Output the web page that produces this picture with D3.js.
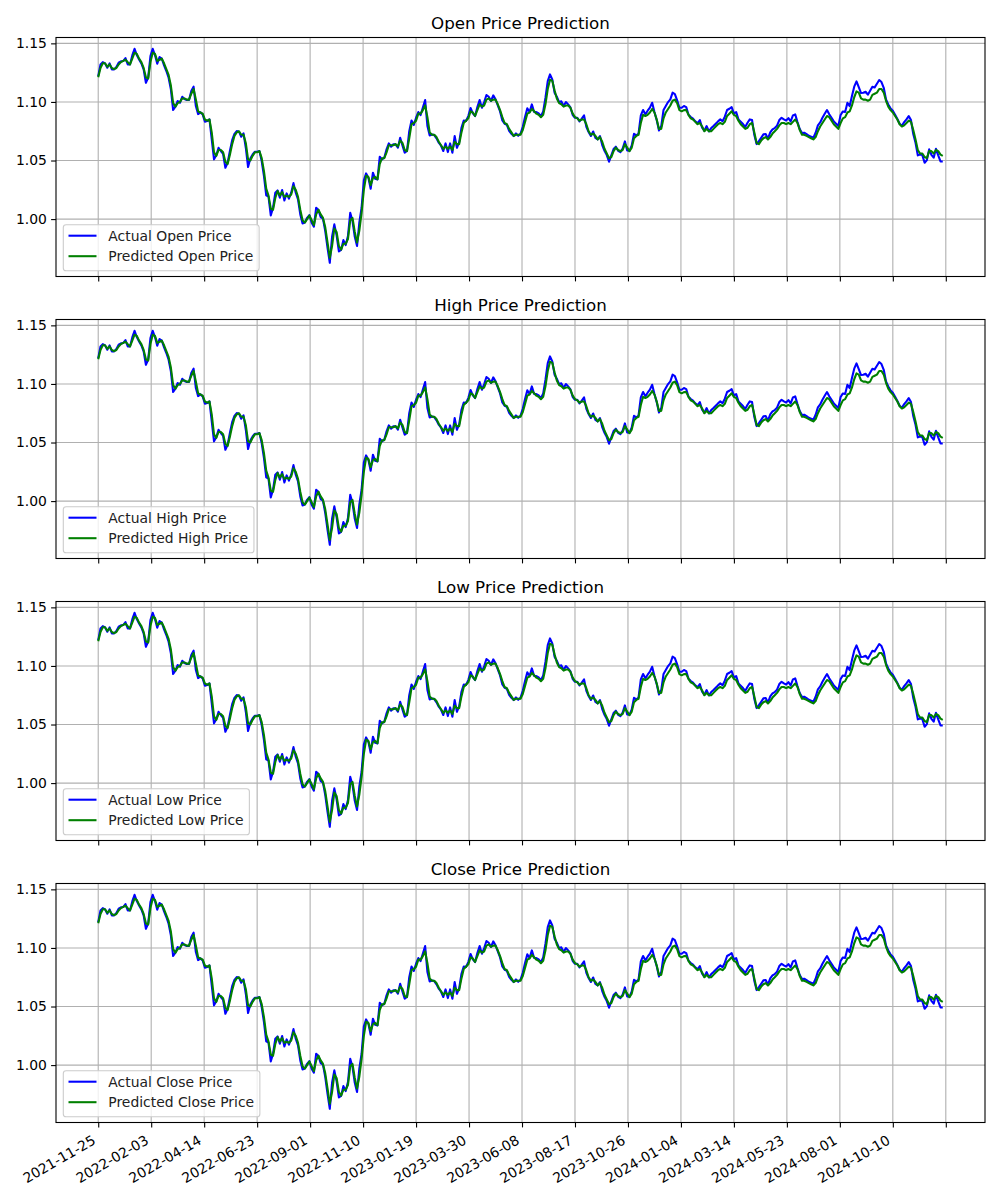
<!DOCTYPE html>
<html><head><meta charset="utf-8">
<script src="https://cdn.jsdelivr.net/npm/d3@7"></script>
<style>body{margin:0;background:#fff;} svg{display:block;font-family:"DejaVu Sans",sans-serif;}</style>
</head><body><svg id="chart" width="1000" height="1200"></svg>
<script>
// ---- data (one sample every 3 days from the start date) ----
const startDate = "2021-11-25";
const stepDays = 3;
const actualPrice = [
1.1220,1.1320,1.1340,1.1329,1.1292,1.1329,1.1278,1.1278,1.1298,1.1335,
1.1346,1.1349,1.1374,1.1320,1.1320,1.1397,1.1454,1.1400,1.1363,1.1329,
1.1278,1.1164,1.1207,1.1392,1.1454,1.1400,1.1326,1.1383,1.1369,1.1312,
1.1264,1.1207,1.1107,1.0931,1.0959,1.1008,1.0993,1.1044,1.1025,1.1016,
1.1016,1.1093,1.1130,1.0965,1.0896,1.0911,1.0894,1.0831,1.0837,1.0851,
1.0680,1.0510,1.0544,1.0609,1.0581,1.0558,1.0438,1.0481,1.0581,1.0674,
1.0728,1.0751,1.0746,1.0703,1.0731,1.0609,1.0444,1.0518,1.0552,1.0575,
1.0575,1.0581,1.0495,1.0367,1.0202,1.0191,1.0031,1.0097,1.0225,1.0245,
1.0182,1.0248,1.0159,1.0219,1.0174,1.0225,1.0307,1.0225,1.0168,1.0040,
0.9963,0.9970,1.0011,1.0034,0.9969,0.9935,1.0097,1.0077,1.0017,1.0003,
0.9898,0.9755,0.9627,0.9849,0.9955,0.9861,0.9724,0.9738,0.9821,0.9778,
0.9855,1.0054,0.9983,0.9849,0.9770,0.9969,1.0097,1.0330,1.0390,1.0353,
1.0259,1.0396,1.0344,1.0339,1.0532,1.0510,1.0524,1.0595,1.0646,1.0618,
1.0638,1.0638,1.0609,1.0694,1.0629,1.0566,1.0581,1.0751,1.0842,1.0803,
1.0865,1.0914,1.0888,1.0953,1.1016,1.0794,1.0714,1.0723,1.0717,1.0689,
1.0652,1.0626,1.0581,1.0646,1.0572,1.0646,1.0566,1.0709,1.0609,1.0657,
1.0780,1.0842,1.0837,1.0879,1.0948,1.0902,1.0879,1.0956,1.1016,1.0950,
1.0999,1.1059,1.1044,1.1008,1.1056,1.1022,1.0970,1.0919,1.0842,1.0814,
1.0805,1.0754,1.0728,1.0709,1.0731,1.0711,1.0728,1.0788,1.0871,1.0945,
1.0914,1.0979,1.0914,1.0914,1.0902,1.0879,1.0919,1.1036,1.1178,1.1235,
1.1193,1.1079,1.1044,1.0999,1.1005,1.0965,1.0999,1.0979,1.0953,1.0888,
1.0865,1.0865,1.0834,1.0857,1.0885,1.0788,1.0743,1.0709,1.0748,1.0694,
1.0680,1.0709,1.0632,1.0583,1.0546,1.0490,1.0544,1.0598,1.0618,1.0583,
1.0572,1.0603,1.0663,1.0586,1.0583,1.0629,1.0728,1.0714,1.0731,1.0885,
1.0931,1.0894,1.0925,1.0951,1.0993,1.0914,1.0845,1.0757,1.0794,1.0931,
1.0965,1.0999,1.1022,1.1079,1.1067,1.1013,1.0950,1.0950,1.0965,1.0956,
1.0891,1.0871,1.0857,1.0834,1.0817,1.0845,1.0780,1.0754,1.0794,1.0748,
1.0777,1.0794,1.0814,1.0834,1.0851,1.0835,1.0874,1.0931,1.0942,1.0956,
1.0902,1.0914,1.0851,1.0831,1.0811,1.0786,1.0822,1.0851,1.0845,1.0717,
1.0640,1.0666,1.0694,1.0723,1.0726,1.0686,1.0740,1.0766,1.0777,1.0797,
1.0845,1.0865,1.0851,1.0842,1.0862,1.0834,1.0885,1.0894,1.0828,1.0768,
1.0734,1.0737,1.0726,1.0711,1.0703,1.0694,1.0737,1.0800,1.0825,1.0865,
1.0899,1.0931,1.0894,1.0865,1.0834,1.0814,1.0794,1.0888,1.0919,1.0914,
1.0993,1.0965,1.1050,1.1130,1.1175,1.1127,1.1076,1.1079,1.1087,1.1062,
1.1096,1.1130,1.1124,1.1155,1.1187,1.1170,1.1121,1.1022,1.0979,1.0945,
1.0925,1.0891,1.0854,1.0814,1.0797,1.0828,1.0851,1.0879,1.0845,1.0726,
1.0652,1.0544,1.0552,1.0546,1.0481,1.0504,1.0595,1.0549,1.0524,1.0600,
1.0544,1.0492,1.0492
];
const predictedPrice = [
1.121,1.129,1.133,1.133,1.130,1.132,1.129,1.128,1.129,1.132,
1.134,1.135,1.136,1.134,1.132,1.137,1.142,1.141,1.137,1.134,
1.129,1.121,1.120,1.134,1.142,1.141,1.135,1.136,1.137,1.133,
1.128,1.123,1.114,1.099,1.096,1.099,1.100,1.103,1.103,1.102,
1.102,1.107,1.111,1.102,1.092,1.091,1.090,1.085,1.084,1.085,
1.074,1.057,1.054,1.059,1.059,1.057,1.049,1.047,1.055,1.064,
1.071,1.074,1.075,1.072,1.072,1.065,1.051,1.050,1.054,1.057,
1.057,1.058,1.052,1.041,1.026,1.020,1.009,1.008,1.018,1.024,
1.020,1.023,1.019,1.020,1.019,1.021,1.028,1.025,1.019,1.008,
0.999,0.997,1.000,1.003,0.999,0.995,1.004,1.008,1.004,1.001,
0.993,0.980,0.967,0.977,0.992,0.989,0.977,0.974,0.979,0.979,
0.983,0.999,1.001,0.989,0.980,0.990,1.005,1.025,1.037,1.036,
1.029,1.035,1.036,1.034,1.047,1.052,1.052,1.057,1.063,1.063,
1.063,1.064,1.062,1.067,1.065,1.059,1.058,1.069,1.081,1.082,
1.084,1.090,1.090,1.093,1.097,1.087,1.074,1.072,1.072,1.070,
1.066,1.063,1.060,1.062,1.060,1.062,1.059,1.066,1.064,1.064,
1.074,1.082,1.084,1.086,1.092,1.091,1.088,1.093,1.098,1.096,
1.097,1.102,1.103,1.101,1.102,1.102,1.098,1.093,1.087,1.082,
1.081,1.077,1.074,1.071,1.072,1.072,1.072,1.076,1.083,1.090,
1.091,1.094,1.092,1.090,1.089,1.087,1.089,1.098,1.111,1.119,
1.118,1.110,1.103,1.099,1.098,1.096,1.097,1.097,1.095,1.090,
1.087,1.086,1.084,1.085,1.085,1.081,1.075,1.072,1.073,1.071,
1.068,1.070,1.066,1.060,1.056,1.052,1.053,1.058,1.061,1.059,
1.058,1.059,1.064,1.061,1.058,1.061,1.069,1.071,1.072,1.082,
1.089,1.088,1.089,1.091,1.094,1.091,1.085,1.077,1.077,1.086,
1.091,1.094,1.097,1.101,1.102,1.099,1.093,1.092,1.093,1.093,
1.089,1.086,1.085,1.083,1.081,1.082,1.079,1.075,1.077,1.075,
1.075,1.077,1.079,1.081,1.082,1.081,1.083,1.088,1.090,1.092,
1.089,1.088,1.084,1.081,1.079,1.077,1.078,1.081,1.082,1.074,
1.065,1.064,1.067,1.069,1.070,1.068,1.070,1.073,1.075,1.077,
1.080,1.082,1.082,1.081,1.082,1.081,1.083,1.085,1.082,1.076,
1.072,1.072,1.071,1.070,1.069,1.068,1.070,1.075,1.079,1.082,
1.085,1.088,1.087,1.084,1.081,1.079,1.077,1.082,1.086,1.087,
1.091,1.092,1.097,1.104,1.109,1.108,1.103,1.102,1.102,1.101,
1.102,1.106,1.107,1.108,1.111,1.111,1.108,1.101,1.096,1.093,
1.091,1.088,1.085,1.081,1.079,1.080,1.082,1.084,1.083,1.076,
1.068,1.059,1.056,1.056,1.053,1.052,1.058,1.058,1.056,1.059,
1.058,1.055,1.054
];
const panelNames = ["Open", "High", "Low", "Close"];
const xTickDates = ["2021-11-25","2022-02-03","2022-04-14","2022-06-23","2022-09-01","2022-11-10",
  "2023-01-19","2023-03-30","2023-06-08","2023-08-17","2023-10-26","2024-01-04","2024-03-14",
  "2024-05-23","2024-08-01","2024-10-10","2024-12-19"];
const xTickLabels = ["2021-11-25","2022-02-03","2022-04-14","2022-06-23","2022-09-01","2022-11-10",
  "2023-01-19","2023-03-30","2023-06-08","2023-08-17","2023-10-26","2024-01-04","2024-03-14",
  "2024-05-23","2024-08-01","2024-10-10",""];
const yTicks = [1.00, 1.05, 1.10, 1.15];
const yLimits = [0.951, 1.155];

// ---- layout ----
const svg = d3.select("#chart");
const L = 56, R = 985;
const panelTops = [37.5, 319.5, 601.5, 883.5];
const panelH = 239;
const FS = 13.9;
const parse = d3.utcParse("%Y-%m-%d");
const d0 = parse(startDate);
const dates = actualPrice.map((_, i) => d3.utcDay.offset(d0, i * stepDays));
const first = dates[0], last = dates[dates.length - 1];
const span = last - first;
const x = d3.scaleUtc()
  .domain([new Date(+first - 0.05 * span), new Date(+last + 0.05 * span)])
  .range([L, R]);
const tickDates = xTickDates.map(parse);

svg.append("rect").attr("width", 1000).attr("height", 1200).attr("fill", "#fff");

panelNames.forEach((name, k) => {
  const top = panelTops[k], bottom = top + panelH;
  const y = d3.scaleLinear().domain(yLimits).range([bottom, top]);
  const g = svg.append("g");
  const clipId = "clip" + k;
  svg.append("clipPath").attr("id", clipId).append("rect")
    .attr("x", L).attr("y", top).attr("width", R - L).attr("height", panelH);

  // grid
  const grid = g.append("g").attr("stroke", "#b0b0b0").attr("stroke-width", 1.1);
  tickDates.forEach(d => grid.append("line")
    .attr("x1", x(d)).attr("x2", x(d)).attr("y1", top).attr("y2", bottom));
  yTicks.forEach(v => grid.append("line")
    .attr("x1", L).attr("x2", R).attr("y1", y(v)).attr("y2", y(v)));

  // lines
  const line = d3.line().x((d, i) => x(dates[i])).y(d => y(d));
  const lg = g.append("g").attr("clip-path", `url(#${clipId})`);
  lg.append("path").datum(actualPrice).attr("d", line)
    .attr("fill", "none").attr("stroke", "#0000ff").attr("stroke-width", 2.08)
    .attr("stroke-linejoin", "round");
  lg.append("path").datum(predictedPrice).attr("d", line)
    .attr("fill", "none").attr("stroke", "#008000").attr("stroke-width", 2.08)
    .attr("stroke-linejoin", "round");

  // axes
  const xa = g.append("g").attr("transform", `translate(0,${bottom})`)
    .call(d3.axisBottom(x).tickValues(tickDates).tickSize(4.9).tickFormat(""));
  xa.select(".domain").remove();
  xa.selectAll("line").attr("stroke", "#000").attr("stroke-width", 1.1);

  const ya = g.append("g").attr("transform", `translate(${L},0)`)
    .call(d3.axisLeft(y).tickValues(yTicks).tickSize(4.9).tickPadding(4.2).tickFormat(d3.format(".2f")));
  ya.select(".domain").remove();
  ya.selectAll("line").attr("stroke", "#000").attr("stroke-width", 1.1);
  ya.selectAll("text").attr("font-size", FS).attr("fill", "#000")
    .attr("font-family", "DejaVu Sans");

  if (k === panelNames.length - 1) {
    const lab = g.append("g");
    tickDates.forEach((d, i) => {
      if (!xTickLabels[i]) return;
      lab.append("text")
        .attr("transform", `translate(${x(d)},${bottom + 23.5}) rotate(-30)`)
        .attr("x", 0).attr("y", -3.3)
        .attr("text-anchor", "end")
        .attr("font-size", FS).attr("fill", "#000")
        .text(xTickLabels[i]);
    });
  }

  // spines
  g.append("rect").attr("x", L).attr("y", top).attr("width", R - L).attr("height", panelH)
    .attr("fill", "none").attr("stroke", "#000").attr("stroke-width", 1.1);

  // title
  g.append("text").attr("x", (L + R) / 2).attr("y", top - 8.6)
    .attr("text-anchor", "middle").attr("font-size", 16.7).attr("fill", "#000")
    .text(`${name} Price Prediction`);

  // legend
  const leg = g.append("g");
  const box = leg.append("rect").attr("x", 63.3).attr("y", bottom - 51.8)
    .attr("height", 46).attr("rx", 2.8)
    .attr("fill", "#fff").attr("fill-opacity", 0.8)
    .attr("stroke", "#cccccc").attr("stroke-width", 1.1);
  const entries = [[`Actual ${name} Price`, "#0000ff"], [`Predicted ${name} Price`, "#008000"]];
  let maxW = 0;
  entries.forEach(([txt, col], j) => {
    const cy = bottom - 40.8 + j * 20.5;
    leg.append("line").attr("x1", 68.5).attr("x2", 96.5).attr("y1", cy).attr("y2", cy)
      .attr("stroke", col).attr("stroke-width", 2.08);
    const t = leg.append("text").attr("x", 108.3).attr("y", cy).attr("dy", "0.35em")
      .attr("font-size", FS).attr("fill", "#222").text(txt);
    maxW = Math.max(maxW, t.node().getComputedTextLength());
  });
  box.attr("width", 108.3 + maxW + 5.8 - 63.3);
});
</script>
</body></html>
